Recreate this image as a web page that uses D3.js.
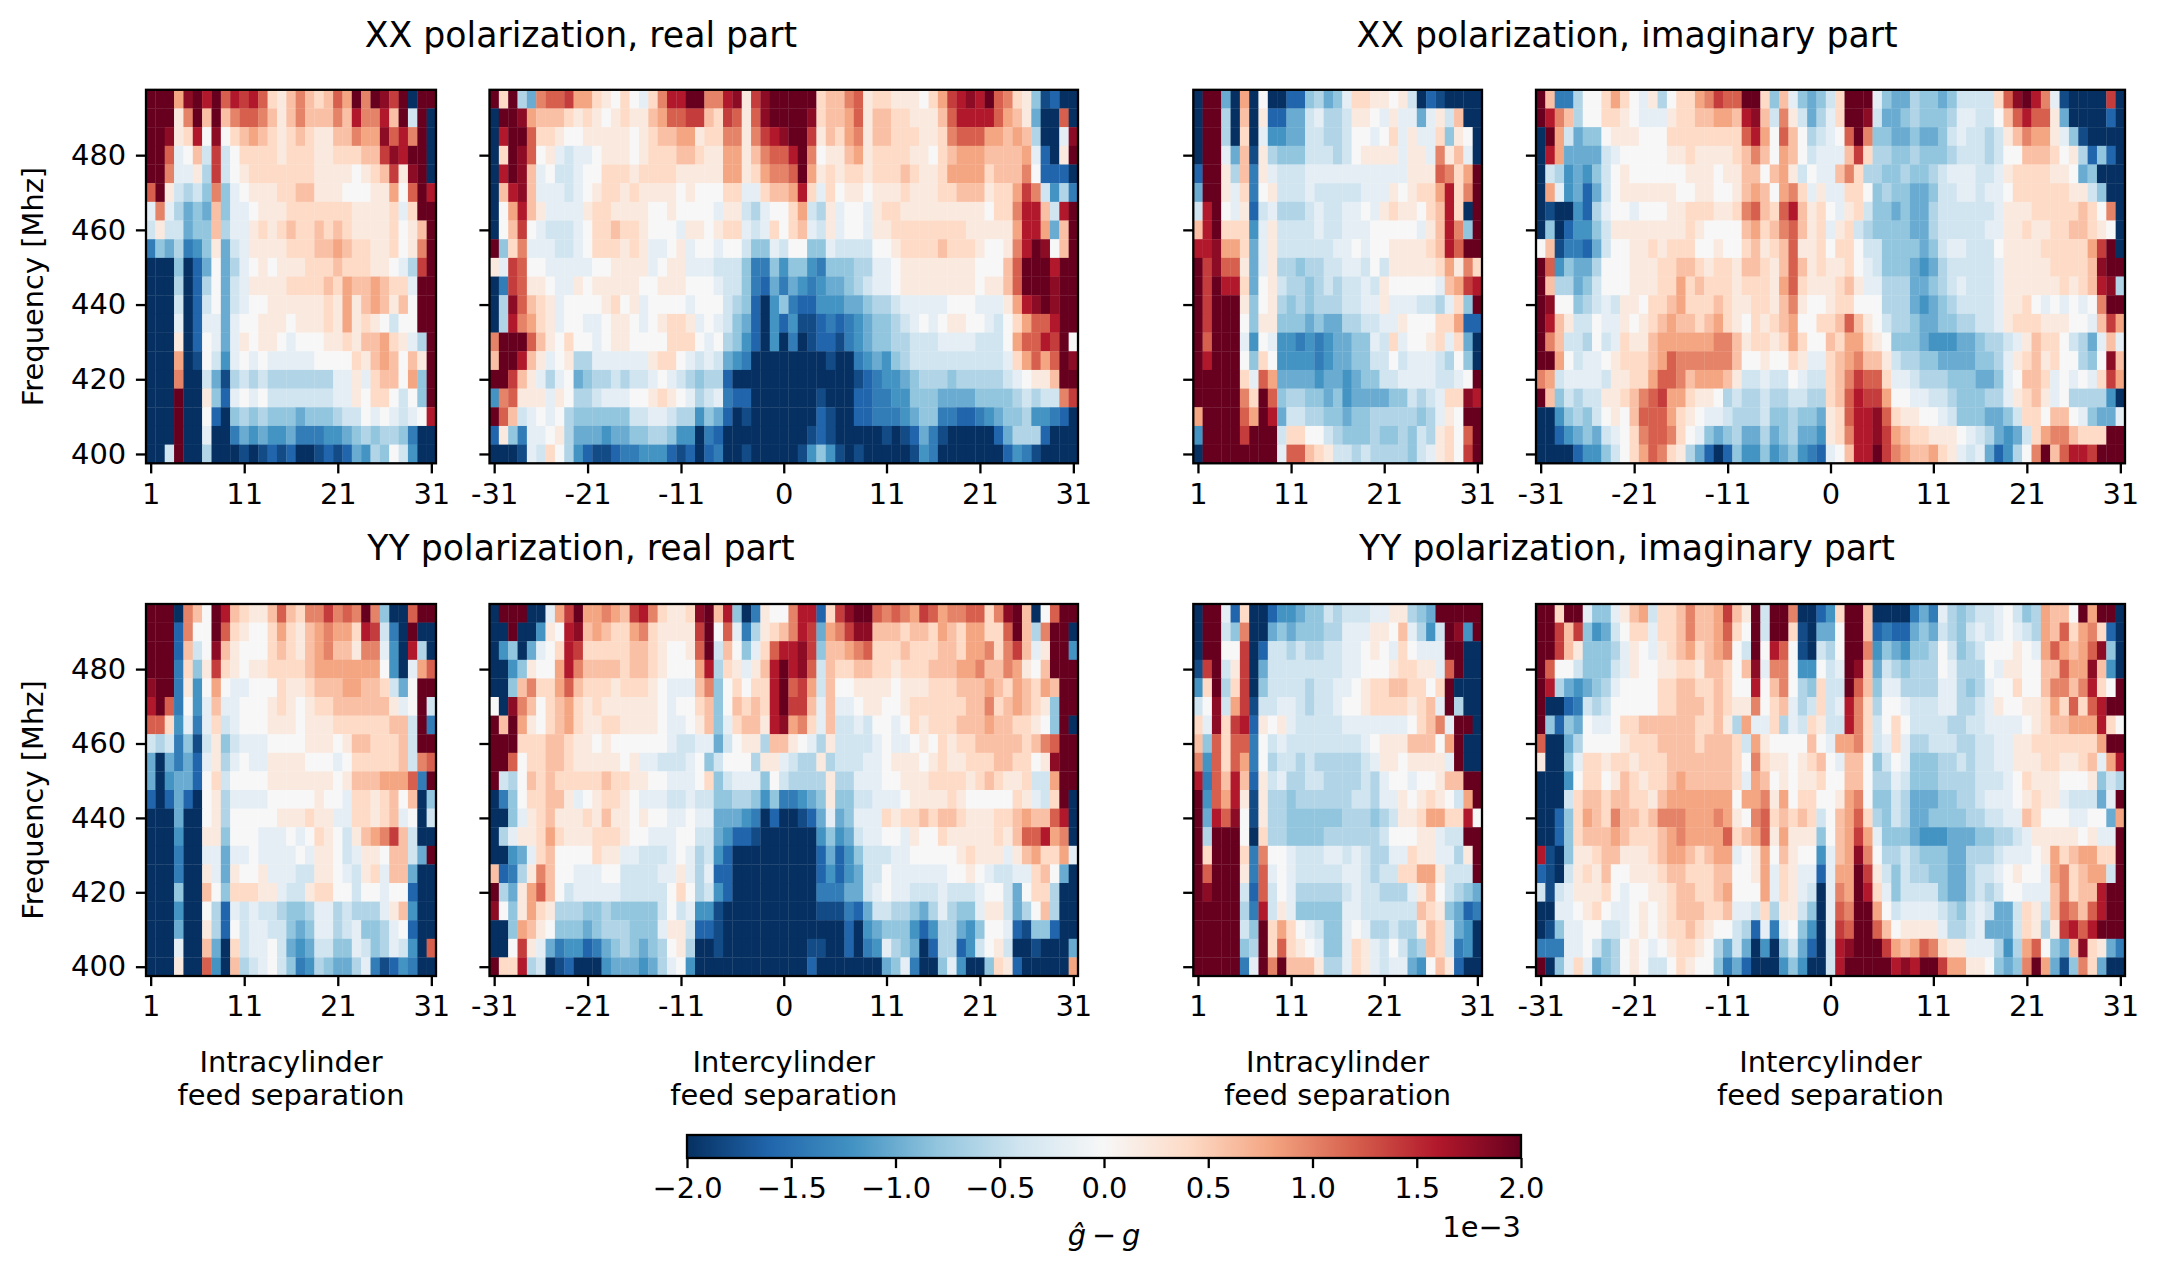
<!DOCTYPE html>
<html><head><meta charset="utf-8">
<script src="https://cdn.jsdelivr.net/npm/d3@7"></script>
<style>html,body{margin:0;background:#fff}svg{display:block}text{font-family:"DejaVu Sans";fill:#000}</style>
</head><body><svg id="c" width="2158" height="1274"></svg>
<script>
// Each letter is one cell; letter index -> value in LEVEL_VALUES (units of 1e-3).
const LEVEL_CODES = "abcdefghijklmnopqrstu";
const LEVEL_VALUES = [-2.0,-1.8,-1.6,-1.4,-1.2,-1.0,-0.8,-0.6,-0.4,-0.2,0,0.2,0.4,0.6,0.8,1.0,1.2,1.4,1.6,1.8,2.0];
const frequencies = [495,490,485,480,475,470,465,460,455,450,445,440,435,430,425,420,415,410,405,400];
const intraTicks = [1,11,21,31];
const interTicks = [-31,-21,-11,0,11,21,31];
const freqTicks = [400,420,440,460,480];
const cbarTicks = [-2,-1.5,-1,-0.5,0,0.5,1,1.5,2];
const cbarLabels = ["\u22122.0","\u22121.5","\u22121.0","\u22120.5","0.0","0.5","1.0","1.5","2.0"];
const paletteStops = ["#053061","#2166ac","#4393c3","#92c5de","#d1e5f0","#f7f7f7","#fddbc7","#f4a582","#d6604d","#b2182b","#67001f"];

const xxRealIntra = [
"uuuotusuqs rsqmlnpnmn qouputruau u",
"uuulpununp qqpnlnpnnn pnsppsnuiu a",
"uutlmsktkm nonmlmnmll nnpootqspu a",
"uuqjknirik mmmmlmmmll mmmnnrtsuu a",
"uupjjlhrik lmmmmmmmll llklmnrltu a",
"qulihigpgj klllmmnnll lkkkllokqu s",
"jpjhfgfngj jklllmmmmm mmllllmjmu u",
"iliifggnhj jlmlmnmmnm nmllllmkln u",
"dgfhdeglfi jllllmmmnn onmmllmklp u",
"aaagacfkfh jklklllmmm nmmmllkjhr u",
"aaahachkfi jllllmmmmn monnonmmju u",
"aaaiacikfi jkkllllllm lolnonlnku u",
"aaajacjjfj kklllklllm lolmlkikku u",
"aaalackjfj lkllkjkkkl lmlnnomljh u",
"aaaoabkiej kjkjjjjjkk kkmlnonknl u",
"aaapaaifbh ihihhhhhhh jjljmnnkog u",
"aaauaalgcj kjkiiiiiii jjlkmmkikg u",
"aaauaakcag hghgggfggg hiikjkjijk s",
"aaauaajaad fefeefddde efghghhgda a",
"aaiuaahaaa babcbcaabc bcfehgkiea a"];

const xxRealInter = [
"umuhfpqqro omlkmkjmps suuppstlrt uuuuumnnpq lmmlllkmor stsuqpmlgb caa",
"auutonnnml mlklmllnoq qrrnmrqlqt uuuutmnnoq lnnmmlllnq ssssqonlfa aqa",
"asuuqmmlkk lllllklmnn oolmmpplpr stuurlnmop lnnmmmllmp qqqoononha ajt",
"amutqkljij jklllklmmm nnmlloolnp qqsupkllno lmmmmllkmn ooonnnnojc alu",
"asutnjkiij kkmmmlmmmm llllloolmo ppquolmlmm lmmmnmllmo ooomnnnpkc cca",
"anstnjjjij klmmlmllll klkkkmmjjm nnosmjmkll klllmlllmm nnnlmmorpi ehd",
"akosnljjjj lmmllllkkl kkkkjllihj kkmoihljkk jlmmllllll lllkmmpssn isu",
"aknrkjiiij kmmnmmlkkk jllklmmjij mkmnjiljkk jllmmmmmmm mlllllosso fnu",
"ugmpjjjiij kmmmlmljjk ljkkjkkigg jikkggjiii ikklmmmmnm mmlkklpsut knu",
"ljrqkkjjjj jkklllljkl ljjjiiigdd geggedgggh hjjkllllll llkkknquuu suu",
"adrqllkjjl klllllkkll lkkkjiigdc fdfedeffgh ijjkllllll llkllnquuu tuu",
"ahtqnmljkk kklmkljkkk kjkkkihgca egdcceeeff ghhijjjjjk kkjjjlostu tuu",
"ahspomljkk jjkllkjklm mljkjigfca ecebbcdcde fgghijkjkl lkkjikmoqq suu",
"puuuqnlkmk kjkllkkkkm mmkjkhgeca eadabccbde fgghhiiijj jjiiikoqqs ruk",
"nuusnljklh hjjjjjjlmm kjijifedaa aaaaaabaad efeghiiiii iiiiijmoqo qut",
"uurnljhjkf ghhihiijkj ihghhcaaaa aaaaaaaaab cdeefghhhg hhhhhijkll nuu",
"epqllljlkh hijjjkklml kjhijdccaa aaaaabaaac cddeegggff ffgggghihi ipr",
"uqnijkjkhg gggggiijji hhegfcabaa aaaaacbaac cdddefggdd ccdefgghee dca",
"clgdjjklhf ffeffgghhg eeadcaaaaa aaaabcbaaa aababcfdba aaaacfhhhc aaa",
"aaabjimkhe cbbcddeeec bcacdaabaa aaabegebab aaaaabedaa aaaaacedba aaa"];

const xxImagIntra = [
"auufaoakaa ccghfgjmml lkliacbaaa a",
"auuhanalcc ffijhhillk jljjfjlina a",
"auuhamajee ffiihhikkj kmjljjmglk a",
"auujfnblhg ggiiihikll lljlljplnj a",
"cuulhndlji iijjjjjjjj jjjlllqpmo u",
"fuuljmdkli iijiiiiijj jlklmmosmp u",
"isukjlcijh hhijiijjkj lmllkmnsma u",
"nsummmejli iiijiijjjk kkkkjlnspg u",
"sstoomfjli iiiiijjkjk kllllmnsqu u",
"urtqqlfjlh hghhiijjik illlllmolp m",
"urussmfkli hhghihiiji lkkkkkjnor s",
"uruuulgklh ghghhhiijj ljjjiihjmg u",
"uruuukgllg ggfgffhhii jjlkkkmmoc c",
"uquuujekje ededeffggj imjkklmjmf a",
"usuuukgmke eeedeffggi ikijjjihkg a",
"uuuuumjqof fffeffefgg iijjjjiijk u",
"uuuuupmuqg hhggfgefff fggihijmmt s",
"ouuuuqousf iihhggfggh hhhhghjlku u",
"euuuuruuui mmkkihgggh gghgihlmkq u",
"auuuuuuuuj qqnmliihih hhhgijlmkr u"];

const xxImagInter = [
"unddhkkmom kjlhkmmopr qquumgnjgf gimuuujgff hggfgiiiim qtuspjbaaa ara",
"uspnhkkmml kjjjlmmnno onstniplif hjmuutiffg hggghjjiik nqsqqlfaaa aca",
"auoifggkll lkkkmmmmmm mmqsokqnkh ijkqupggff gffgijiihi lnpooljgba aaa",
"asoffffijk kkkkllmlll lmnpnkonki jjjnrmhhgg hggghiiihi kknnnmklhc gca",
"aihefegikl kkkkkklllk llnnknolik jjnpmhhggh gghijjjiij lmmmmllkfg aaa",
"aojefcfikl lllllkkllk klnonkopmj ljjmmkghgg ffgiijjijj kmmmmmmlli gaa",
"abaaechjkk jkkkllmmml lmpqnmqsnl mkjlmiggfg ffhiiiiiij lllmmmmmnm kpa",
"agaceegill llllllmlkk kknomnpqnl mjlmihgggg ffhiiiiijj llmllmmnnm lka",
"knbddcfikk llmlmmmkkl kkmnlmnqll mkmmkiiggg gfgijjiiik llllmmmmmo rua",
"uqegffhkkk lllmmnnmlm mlnnmlnqnl mllmkjiggg fefhiiiiij lllllmmmmn tuu",
"unhhfgikkk lllmmomnmm mlmmmloqml llmnljjhhh ffghijiiij llllllmlmn sth",
"utkkghijil lkmmnommmn mllmmlnplk klmmkkkhhh fefghiiiij llmkjkjkjk puu",
"usnliikjjl klmnonnmno mlkmlmnokk mmnqnlkihh gffgghhiij lmmmlllkkj nro",
"upniihkijm llnoooooop pnlmmlmomk knmoomlkgg gfeeeffghh ijlnmmkihf jnj",
"uuokijjklm mmnoqppppp pnkklkkmlj jmnopnnlih hggffffggh jlmnlmkkhg ktn",
"poijjjjill mmoqqpnooo nliijiikji imnprqqmjj ihhhgggffg jknnmjkjkj mro",
"ungihiillm npqroomllk hihhihhiih hmnqsrrokk jjiihggghh jlmnljkhhh hea",
"aaeghgiklk nqqqomlkjj ihhhigghgg flmqsstqml lkkjigggff gimmknnkjg ffj",
"aacefgfijk mpqqpmkjgf ghffhfghff elmpsstron mmlllkjihf efimoppnmm muu",
"aaaaceegik moqpmlhfca cgeegefged cjknssurpo nnomljijfc ehkpunqssr uuu"];

const yyRealIntra = [
"uuuapnkusn mllnqnmppr pqpupgaaqu u",
"uuucpkkuqm lkkmomlnop oomsridaua a",
"uuucniktnl kkkmnmlnop nnlppjeash a",
"uuudmglrml kllmmmmnoo oooookeajo q",
"tuudlekokj jkkkmllmnn noonnmifku u",
"suqdkejnjj kkklmlklmm nnnnnnljku i",
"qqmejdjmij kkklllklll mmmmmmnniu d",
"ihidgbilgi jjjkkkklll klnnmmmniu u",
"fafdfcjlhj kjjllllkkk jkmmmmmnip q",
"faeffckmik kkklllllll klnnnoooqd u",
"cacfcaklhj jjjkkkkklk kjmmlmnkna g",
"aaafaaklhk kkkklllmll jjmmlmnjka i",
"aaaeaallgk kkjjjkjkml kilnoprnia a",
"aaadaajjfj jkjjjjkjll kijllknnif u",
"aaadaaljfl kkljjjiill kjilmjnnfa a",
"aaagaankgm mmlljiilmm kkikkjkkca a",
"aaaeaakhcj ijiihgghjj hihhhjlnea a",
"aaafaalhck ijjiigfgjj hijgghjkca a",
"aaajaanfam ijjkifefii ggjighjiea q",
"aaalaaqean hijkigdehg ffhjdbceda a"];

const yyRealInter = [
"auuuaajoru ooponrspml lmtunsgadl kkpsscmrtu uqpqporqop pqqmptunak quu",
"aauaaelkst nonmmopmll llrukqjdhl mnpsrfoprt tnnnmnnmon moommqunhp uua",
"aegafjkmsr mmmmmnnmlk klquinkgjm qsstrgnnop qmmmnmmmnn moopmprnjl uue",
"aaeglkkosp nnnnmnnmlk kkoshmljln sustqinmmn nmmlmmmnnn oopnnpolkn uuu",
"aagnpmmoqn mmmlmmmlkj jjnpgkmkmm suqroinkkl lllklllmmm nnnonmonmo nuu",
"katpnkmnom lmllllllkj kkmngknmnm surrnjnjjk llkklmmmmm mnnpmnonml guu",
"unuolkmnom llmmllllkj jklngjmnnl stopmjniij ikkjkmlmmm nnnonnmmlk gua",
"uuummmnnml lklkkkkkkj iijjfikllh nnlkjhliii ijkjjklkml mmnnnnnmnp quu",
"uuqkmmnnml llllkljjii ijkgikkkhl ljihhlhiii jjklllklml lmmmnnmmkl tuu",
"uihknmnmmm mmnmmllkkj jjkmgijjjg kihhhhlhhj jjkklllmmm mlmnmllmii ouu",
"adgkmmnnlj klmmlkjjji ijiigghhge gddefglggi ijjjkllllm lkkkkkmlji mua",
"aagjlmnlll mlnllklkkj jkjjfffeda caabcfjfgj jjmlmmnmnn mlllmmnonn qsa",
"ahjllmomll lmmmlkkjjj kkiifeccba aaaaaegefi jjkkjlkkml llllmlnqqs opa",
"aaefjmnkkk kmlljjiiij kjhiecaaaa aaaaacfceg iiijjkkkkk lmllljlnom moj",
"ncdhlpnkkj jjkkiiiijj ljhjccaaaa aaaaacecef iikjjjjjjk klkjiijjmn kfa",
"uhfloqnkij jjjjiiiiik mkhiecaaaa aaaaadddff ijkjjiiiji iijkkifkmm haa",
"tkglomlhhh gghgggggik ijeebaaaaa aaaaabbbdc fiihhgfhjh ggjllifhkn haa",
"aagonlkggg fghhhgggjl liccbaaaaa aaaaaaaaca efgggecehh fegkkjcbgg caa",
"aakrljfdee cdfghgfghk lhaabaaaaa aaaabbaaca dejhgfachh ceikliaaba aaf",
"ummshiabca aaefffefhj keaaaaaaaa aaaacaaaaa aafgjdaagj eaagmlcaaa aao"];

const yyImagIntra = [
"auujcmaace efggihiiij jllhgfuuuu u",
"auuigpaafg fggghhjjjl lknjheiute u",
"auukkracii hihhiijjkl kjmkjjjuua a",
"bruilrafii iiiiiijjkk klmmlljqua a",
"emuhmragii iihiijjklm mnnmmkmuaa a",
"iktiorbiij jihiijkklm mmmlmnjuha a",
"mjtmrsclkl jiiiiijjjj jjjkmnpjuu a",
"ngqmqqdkij iiiiiiiijk lllnnnkoua a",
"peqmqodkhi ihihhhhhij llklllljua a",
"sdqnsnclij hhiihhhhih jkkjkklnnu u",
"ueqoslblhh ghhhhhhiih jjlklmlkio u",
"ufsqtkblhh gggggghhhg hillmoomms k",
"uhuuukamhh gggghhhhhh ikkklljiiu u",
"umuuumdpkk jiiijjijih hjjmlljjhl u",
"uquuuldqjk jiiiiijjih iimmooliii u",
"utuuuicqik jhhhhhijii hhhjlnkihg f",
"uuuuuhdsil jgggggjjii iiiinmlgfc d",
"uuuuuigumo mkjiggjkjh hihhlnmife a",
"uuuuughumq mlkjggjmlj ikighnmide a",
"uuuuudjupu nnnlhhjmlj ijjfeknlca a"];

const yyImagInter = [
"uumuujggjl noimmnpnno rnluiuupaa cemuunaaaa dfdjhghiij kighonnkuo uua",
"uurnrgefik mmjmmnpnno qmkuiuumba ffkuuncdcc fgfihgijij kjihonqmop mca",
"uurnlggghj lkjlmnomno pkiuksqkba ihkuupegfe gghkighikk klkjoqonoq tga",
"uqkkigggij lkkllmmlnn mkntjppkee kijutnfihg hhhkjhhhkj llkknnqoot nea",
"ushfefghjk kkkmmnnmmn mkksknpkhg miiuqngjjh hhhjjhghjk kmkknppnps mku",
"uaacdihikk kkkmmnnnmn mllpkmnjhi mijspmhkkj iiijjhhijl kkllmomqmq suu",
"ugcgfkjjkm mnnnnnnmmn lhojjmhjim liispmikmk iiiihhiijj jjklmnnooo smk",
"qaafhkkkkl mmmnnnnmnn nmiolkkkkn kjoopmijmj hhiiihhiij jllmmmmmmm ouu",
"laagjmmlmm lmmmnnnnnn nmkpmllklm nkjnnkgikj ggghhihiij jlllmmllmn jos",
"aaaekmmkln mlmmnonnnn nmjonklkll mkknnkhhji ggghhhhiii jkmlllkkkl gih",
"aaaimnnmnn mmlnoooooo okooplokmm kklopkggih fffgghhijj jklmlljiii fju",
"aacgmonmpn nmnpppooop olkpqmnmnm iknoqmhgih ffgggghhii jjnmkkkjjk kfo",
"aacgmnnnon mmmnopoooo qmnoqlolll gknorojggg feeefffggh hijlllllkl jju",
"sbagllmnnl llmnoonmno ojkloknlkk ejnotpkhhi hgggffhhhi jjjklomnoo mmu",
"cbailmlnkk lllmnnmmmn nkklojmljj cjoourligi hhggffhiij klkkjopmno oiu",
"ibijlllmkj kkllmnnmmn okkkojmlji ajpousmjgi iiigffhihi kkjjjnpmnn suu",
"aajjklmkjj klklmnnnmm njjimhllig ajqpuuokij jjjihgijif fimlinqpnq suu",
"abgjjkkiij klklmmnmlk kihcjdjkge ajrquuqnkl llljhhijff fimlhlrsqs uuu",
"dddjjkighk lkjklmmlkh fifaeagifc aistuuuron oqpmlljjjh ehoqkgfntm lfd",
"uagjmjfghk lkiikmlkkg dfcaaaegea aisuuuuust suuroollkg fgpuofbgpm faa"];

const panels = [
 {rows:xxRealIntra,kind:"intra",x:[146,436],top:0,yLabels:true},
 {rows:xxRealInter,kind:"inter",x:[489.5,1078],top:0},
 {rows:xxImagIntra,kind:"intra",x:[1193.3,1482],top:0},
 {rows:xxImagInter,kind:"inter",x:[1536,2125],top:0},
 {rows:yyRealIntra,kind:"intra",x:[146,436],top:1,yLabels:true},
 {rows:yyRealInter,kind:"inter",x:[489.5,1078],top:1},
 {rows:yyImagIntra,kind:"intra",x:[1193.3,1482],top:1},
 {rows:yyImagInter,kind:"inter",x:[1536,2125],top:1}];
const yRanges = [[463.3,89.8],[976,604]];

const color = d3.scaleLinear()
  .domain(d3.range(11).map(i => -2 + 0.4*i))
  .range(paletteStops).interpolate(d3.interpolateRgb).clamp(true);

const svg = d3.select("#c");
const FONT = 28.9, TICK = 10.1, LW = 2.3;

function styleAxis(g){
  g.selectAll("path.domain").remove();
  g.selectAll(".tick line").attr("stroke","#000").attr("stroke-width",LW);
  g.selectAll(".tick text").style("font-family","DejaVu Sans").style("font-size",FONT+"px").attr("fill","#000");
}

panels.forEach(p => {
  const intra = p.kind === "intra";
  const seps = intra ? d3.range(1,32) : d3.range(-31,32);
  const x = d3.scaleLinear().domain([seps[0]-0.5, seps[seps.length-1]+0.5]).range(p.x);
  const y = d3.scaleLinear().domain([397.5,497.5]).range(yRanges[p.top]);
  const g = svg.append("g");
  const cells = [];
  p.rows.forEach((row,r) => {
    row.replace(/ /g,"").split("").forEach((ch,c) => {
      cells.push({f:frequencies[r], s:seps[c], v:LEVEL_VALUES[LEVEL_CODES.indexOf(ch)]});
    });
  });
  g.selectAll("rect").data(cells).join("rect")
    .attr("x",d=>x(d.s-0.5)).attr("width",d=>x(d.s+0.5)-x(d.s-0.5)+0.3)
    .attr("y",d=>y(d.f+2.5)).attr("height",d=>y(d.f-2.5)-y(d.f+2.5)+0.3)
    .attr("fill",d=>color(d.v));
  g.append("rect").attr("x",p.x[0]).attr("y",yRanges[p.top][1])
    .attr("width",p.x[1]-p.x[0]).attr("height",yRanges[p.top][0]-yRanges[p.top][1])
    .attr("fill","none").attr("stroke","#000").attr("stroke-width",LW);
  const ax = d3.axisBottom(x).tickValues(intra?intraTicks:interTicks).tickSize(TICK).tickPadding(9.7).tickFormat(d=>String(d));
  svg.append("g").attr("transform",`translate(0,${yRanges[p.top][0]})`).call(ax).call(styleAxis);
  const ay = d3.axisLeft(y).tickValues(freqTicks).tickSize(TICK).tickPadding(9.7).tickFormat(d=>p.yLabels?String(d):"");
  svg.append("g").attr("transform",`translate(${p.x[0]},0)`).call(ay).call(styleAxis);
  if (p.top===1){
    const cx=(p.x[0]+p.x[1])/2;
    const t=svg.append("text").attr("text-anchor","middle").style("font-size",FONT+"px");
    t.append("tspan").attr("x",cx).attr("y",1072).text(intra?"Intracylinder":"Intercylinder");
    t.append("tspan").attr("x",cx).attr("y",1105).text("feed separation");
  }
  if (p.yLabels){
    const cy=(yRanges[p.top][0]+yRanges[p.top][1])/2+10;
    svg.append("text").attr("transform",`translate(43,${cy}) rotate(-90)`)
      .attr("text-anchor","middle").style("font-size",FONT+"px").text("Frequency [Mhz]");
  }
});

[["XX polarization, real part",581,47],["XX polarization, imaginary part",1627,47],
 ["YY polarization, real part",581,560],["YY polarization, imaginary part",1627,560]].forEach(t=>{
  svg.append("text").attr("x",t[1]).attr("y",t[2]).attr("text-anchor","middle").style("font-size","34.7px").text(t[0]);
});

// colorbar
const cbX = d3.scaleLinear().domain([-2,2]).range([687,1521]);
const defs = svg.append("defs");
const grad = defs.append("linearGradient").attr("id","cb");
paletteStops.forEach((c,i)=>grad.append("stop").attr("offset",(i*10)+"%").attr("stop-color",c));
svg.append("rect").attr("x",687).attr("y",1135).attr("width",834).attr("height",23).attr("fill","url(#cb)")
  .attr("stroke","#000").attr("stroke-width",LW);
const cax = d3.axisBottom(cbX).tickValues(cbarTicks).tickSize(TICK).tickPadding(9.7).tickFormat((d,i)=>cbarLabels[i]);
svg.append("g").attr("transform","translate(0,1158)").call(cax).call(styleAxis);
svg.append("text").attr("x",1521).attr("y",1237).attr("text-anchor","end").style("font-size",FONT+"px").text("1e\u22123");
const gl = svg.append("text").attr("x",1104).attr("y",1245).attr("text-anchor","middle").style("font-size",FONT+"px");
gl.append("tspan").style("font-style","italic").text("\u011d");
gl.append("tspan").text("\u2009\u2212\u2009");
gl.append("tspan").style("font-style","italic").text("g");
</script></body></html>
